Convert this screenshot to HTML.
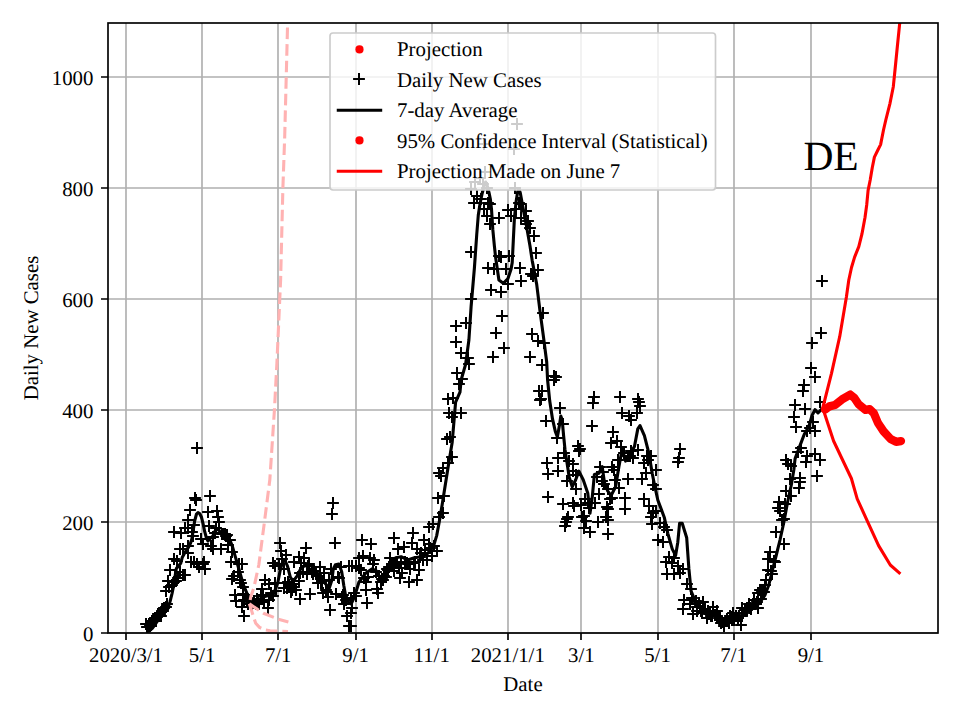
<!DOCTYPE html><html><head><meta charset="utf-8"><style>html,body{margin:0;padding:0;background:#fff;}svg{display:block;}text{font-family:"Liberation Serif",serif;text-rendering:geometricPrecision;}</style></head><body>
<svg width="960" height="720" viewBox="0 0 960 720">
<rect width="960" height="720" fill="#fff"/>
<path d="M126.00 23V633 M202.00 23V633 M278.00 23V633 M356.00 23V633 M432.00 23V633 M508.00 23V633 M581.00 23V633 M658.00 23V633 M734.00 23V633 M811.00 23V633 M108 633.00H938 M108 522.00H938 M108 410.00H938 M108 299.00H938 M108 188.00H938 M108 77.00H938" stroke="#b0b0b0" stroke-width="1.667" fill="none"/>
<defs><clipPath id="ax"><rect x="107.94" y="22.9" width="829.96" height="609.95"/></clipPath></defs><g clip-path="url(#ax)"><path d="M140.1 624.0h11.8M146.0 618.1v11.8M141.1 627.0h11.8M147.0 621.1v11.8M143.1 624.0h11.8M149.0 618.1v11.8M144.1 626.0h11.8M150.0 620.1v11.8M146.1 621.0h11.8M152.0 615.1v11.8M147.1 621.0h11.8M153.0 615.1v11.8M149.1 618.0h11.8M155.0 612.1v11.8M152.1 614.0h11.8M158.0 608.1v11.8M154.1 614.0h11.8M160.0 608.1v11.8M156.1 611.0h11.8M162.0 605.1v11.8M158.1 608.0h11.8M164.0 602.1v11.8M160.1 591.0h11.8M166.0 585.1v11.8M160.1 607.0h11.8M166.0 601.1v11.8M162.1 581.0h11.8M168.0 575.1v11.8M161.1 604.0h11.8M167.0 598.1v11.8M163.1 587.0h11.8M169.0 581.1v11.8M164.1 570.0h11.8M170.0 564.1v11.8M168.1 559.0h11.8M174.0 553.1v11.8M168.1 582.0h11.8M174.0 576.1v11.8M168.1 532.0h11.8M174.0 526.1v11.8M170.1 581.0h11.8M176.0 575.1v11.8M172.1 578.0h11.8M178.0 572.1v11.8M174.1 549.0h11.8M180.0 543.1v11.8M175.1 533.0h11.8M181.0 527.1v11.8M177.1 549.0h11.8M183.0 543.1v11.8M177.1 575.0h11.8M183.0 569.1v11.8M179.1 528.0h11.8M185.0 522.1v11.8M179.1 575.0h11.8M185.0 569.1v11.8M182.1 546.0h11.8M188.0 540.1v11.8M182.1 520.0h11.8M188.0 514.1v11.8M182.1 553.0h11.8M188.0 547.1v11.8M182.1 528.0h11.8M188.0 522.1v11.8M184.1 510.0h11.8M190.0 504.1v11.8M185.1 562.0h11.8M191.0 556.1v11.8M186.1 532.0h11.8M192.0 526.1v11.8M187.1 536.0h11.8M193.0 530.1v11.8M188.1 525.0h11.8M194.0 519.1v11.8M188.1 562.0h11.8M194.0 556.1v11.8M189.1 498.0h11.8M195.0 492.1v11.8M190.1 500.0h11.8M196.0 494.1v11.8M191.1 448.0h11.8M197.0 442.1v11.8M191.1 564.0h11.8M197.0 558.1v11.8M193.1 567.0h11.8M199.0 561.1v11.8M197.1 564.0h11.8M203.0 558.1v11.8M197.1 544.0h11.8M203.0 538.1v11.8M198.1 562.0h11.8M204.0 556.1v11.8M199.1 569.0h11.8M205.0 563.1v11.8M202.1 512.0h11.8M208.0 506.1v11.8M203.1 526.0h11.8M209.0 520.1v11.8M204.1 496.0h11.8M210.0 490.1v11.8M205.1 546.0h11.8M211.0 540.1v11.8M207.1 549.0h11.8M213.0 543.1v11.8M207.1 537.0h11.8M213.0 531.1v11.8M211.1 511.0h11.8M217.0 505.1v11.8M212.1 517.0h11.8M218.0 511.1v11.8M213.1 522.0h11.8M219.0 516.1v11.8M215.1 549.0h11.8M221.0 543.1v11.8M220.1 536.0h11.8M226.0 530.1v11.8M224.1 540.0h11.8M230.0 534.1v11.8M225.1 562.0h11.8M231.0 556.1v11.8M226.1 552.0h11.8M232.0 546.1v11.8M226.1 579.0h11.8M232.0 573.1v11.8M228.1 576.0h11.8M234.0 570.1v11.8M229.1 595.0h11.8M235.0 589.1v11.8M230.1 601.0h11.8M236.0 595.1v11.8M232.1 572.0h11.8M238.0 566.1v11.8M233.1 564.0h11.8M239.0 558.1v11.8M234.1 580.0h11.8M240.0 574.1v11.8M235.1 583.0h11.8M241.0 577.1v11.8M236.1 564.0h11.8M242.0 558.1v11.8M236.1 607.0h11.8M242.0 601.1v11.8M237.1 587.0h11.8M243.0 581.1v11.8M237.1 594.0h11.8M243.0 588.1v11.8M238.1 600.0h11.8M244.0 594.1v11.8M238.1 616.0h11.8M244.0 610.1v11.8M241.1 601.0h11.8M247.0 595.1v11.8M246.1 607.0h11.8M252.0 601.1v11.8M248.1 601.0h11.8M254.0 595.1v11.8M253.1 604.0h11.8M259.0 598.1v11.8M255.1 596.0h11.8M261.0 590.1v11.8M256.1 589.0h11.8M262.0 583.1v11.8M258.1 602.0h11.8M264.0 596.1v11.8M259.1 580.0h11.8M265.0 574.1v11.8M262.1 608.0h11.8M268.0 602.1v11.8M263.1 584.0h11.8M269.0 578.1v11.8M263.1 600.0h11.8M269.0 594.1v11.8M267.1 563.0h11.8M273.0 557.1v11.8M267.1 596.0h11.8M273.0 590.1v11.8M269.1 583.0h11.8M275.0 577.1v11.8M269.1 566.0h11.8M275.0 560.1v11.8M270.1 591.0h11.8M276.0 585.1v11.8M273.1 564.0h11.8M279.0 558.1v11.8M274.1 543.0h11.8M280.0 537.1v11.8M275.1 551.0h11.8M281.0 545.1v11.8M276.1 559.0h11.8M282.0 553.1v11.8M278.1 569.0h11.8M284.0 563.1v11.8M278.1 588.0h11.8M284.0 582.1v11.8M280.1 555.0h11.8M286.0 549.1v11.8M279.1 583.0h11.8M285.0 577.1v11.8M281.1 588.0h11.8M287.0 582.1v11.8M282.1 582.0h11.8M288.0 576.1v11.8M283.1 585.0h11.8M289.0 579.1v11.8M285.1 592.0h11.8M291.0 586.1v11.8M287.1 584.0h11.8M293.0 578.1v11.8M286.1 590.0h11.8M292.0 584.1v11.8M288.1 587.0h11.8M294.0 581.1v11.8M288.1 562.0h11.8M294.0 556.1v11.8M290.1 590.0h11.8M296.0 584.1v11.8M293.1 557.0h11.8M299.0 551.1v11.8M293.1 581.0h11.8M299.0 575.1v11.8M294.1 573.0h11.8M300.0 567.1v11.8M294.1 599.0h11.8M300.0 593.1v11.8M295.1 563.0h11.8M301.0 557.1v11.8M298.1 558.0h11.8M304.0 552.1v11.8M300.1 548.0h11.8M306.0 542.1v11.8M301.1 574.0h11.8M307.0 568.1v11.8M303.1 564.0h11.8M309.0 558.1v11.8M304.1 594.0h11.8M310.0 588.1v11.8M308.1 571.0h11.8M314.0 565.1v11.8M312.1 583.0h11.8M318.0 577.1v11.8M314.1 567.0h11.8M320.0 561.1v11.8M317.1 593.0h11.8M323.0 587.1v11.8M318.1 573.0h11.8M324.0 567.1v11.8M322.1 597.0h11.8M328.0 591.1v11.8M324.1 610.0h11.8M330.0 604.1v11.8M325.1 569.0h11.8M331.0 563.1v11.8M326.1 514.0h11.8M332.0 508.1v11.8M327.1 503.0h11.8M333.0 497.1v11.8M329.1 543.0h11.8M335.0 537.1v11.8M330.1 594.0h11.8M336.0 588.1v11.8M336.1 597.0h11.8M342.0 591.1v11.8M338.1 604.0h11.8M344.0 598.1v11.8M341.1 616.0h11.8M347.0 610.1v11.8M343.1 566.0h11.8M349.0 560.1v11.8M343.1 626.0h11.8M349.0 620.1v11.8M345.1 598.0h11.8M351.0 592.1v11.8M345.1 613.0h11.8M351.0 607.1v11.8M345.1 626.0h11.8M351.0 620.1v11.8M346.1 566.0h11.8M352.0 560.1v11.8M346.1 608.0h11.8M352.0 602.1v11.8M348.1 593.0h11.8M354.0 587.1v11.8M350.1 566.0h11.8M356.0 560.1v11.8M350.1 596.0h11.8M356.0 590.1v11.8M353.1 558.0h11.8M359.0 552.1v11.8M353.1 568.0h11.8M359.0 562.1v11.8M356.1 540.0h11.8M362.0 534.1v11.8M357.1 556.0h11.8M363.0 550.1v11.8M360.1 582.0h11.8M366.0 576.1v11.8M360.1 590.0h11.8M366.0 584.1v11.8M361.1 603.0h11.8M367.0 597.1v11.8M364.1 558.0h11.8M370.0 552.1v11.8M365.1 544.0h11.8M371.0 538.1v11.8M368.1 560.0h11.8M374.0 554.1v11.8M371.1 589.0h11.8M377.0 583.1v11.8M372.1 593.0h11.8M378.0 587.1v11.8M373.1 576.0h11.8M379.0 570.1v11.8M375.1 582.0h11.8M381.0 576.1v11.8M377.1 580.0h11.8M383.0 574.1v11.8M378.1 576.0h11.8M384.0 570.1v11.8M381.1 569.0h11.8M387.0 563.1v11.8M384.1 558.0h11.8M390.0 552.1v11.8M386.1 564.0h11.8M392.0 558.1v11.8M388.1 538.0h11.8M394.0 532.1v11.8M388.1 571.0h11.8M394.0 565.1v11.8M392.1 549.0h11.8M398.0 543.1v11.8M394.1 578.0h11.8M400.0 572.1v11.8M395.1 562.0h11.8M401.0 556.1v11.8M396.1 573.0h11.8M402.0 567.1v11.8M398.1 547.0h11.8M404.0 541.1v11.8M402.1 564.0h11.8M408.0 558.1v11.8M403.1 582.0h11.8M409.0 576.1v11.8M404.1 569.0h11.8M410.0 563.1v11.8M406.1 543.0h11.8M412.0 537.1v11.8M407.1 533.0h11.8M413.0 527.1v11.8M408.1 563.0h11.8M414.0 557.1v11.8M411.1 549.0h11.8M417.0 543.1v11.8M411.1 580.0h11.8M417.0 574.1v11.8M413.1 570.0h11.8M419.0 564.1v11.8M415.1 553.0h11.8M421.0 547.1v11.8M418.1 540.0h11.8M424.0 534.1v11.8M421.1 560.0h11.8M427.0 554.1v11.8M423.1 527.0h11.8M429.0 521.1v11.8M423.1 544.0h11.8M429.0 538.1v11.8M427.1 524.0h11.8M433.0 518.1v11.8M426.1 556.0h11.8M432.0 550.1v11.8M431.1 551.0h11.8M437.0 545.1v11.8M432.1 498.0h11.8M438.0 492.1v11.8M433.1 473.0h11.8M439.0 467.1v11.8M433.1 517.0h11.8M439.0 511.1v11.8M435.1 476.0h11.8M441.0 470.1v11.8M437.1 468.0h11.8M443.0 462.1v11.8M437.1 513.0h11.8M443.0 507.1v11.8M438.1 496.0h11.8M444.0 490.1v11.8M441.1 439.0h11.8M447.0 433.1v11.8M442.1 399.0h11.8M448.0 393.1v11.8M442.1 463.0h11.8M448.0 457.1v11.8M443.1 413.0h11.8M449.0 407.1v11.8M446.1 417.0h11.8M452.0 411.1v11.8M446.1 457.0h11.8M452.0 451.1v11.8M447.1 398.0h11.8M453.0 392.1v11.8M450.1 326.0h11.8M456.0 320.1v11.8M450.1 342.0h11.8M456.0 336.1v11.8M451.1 373.0h11.8M457.0 367.1v11.8M453.1 384.0h11.8M459.0 378.1v11.8M455.1 353.0h11.8M461.0 347.1v11.8M455.1 413.0h11.8M461.0 407.1v11.8M456.1 379.0h11.8M462.0 373.1v11.8M460.1 323.0h11.8M466.0 317.1v11.8M462.1 358.0h11.8M468.0 352.1v11.8M463.1 364.0h11.8M469.0 358.1v11.8M465.1 252.0h11.8M471.0 246.1v11.8M465.1 299.0h11.8M471.0 293.1v11.8M465.1 189.0h11.8M471.0 183.1v11.8M468.1 203.0h11.8M474.0 197.1v11.8M469.1 182.0h11.8M475.0 176.1v11.8M471.1 196.0h11.8M477.0 190.1v11.8M474.1 178.0h11.8M480.0 172.1v11.8M475.1 199.0h11.8M481.0 193.1v11.8M477.1 184.0h11.8M483.0 178.1v11.8M478.1 144.0h11.8M484.0 138.1v11.8M478.1 209.0h11.8M484.0 203.1v11.8M479.1 172.0h11.8M485.0 166.1v11.8M481.1 216.0h11.8M487.0 210.1v11.8M481.1 188.0h11.8M487.0 182.1v11.8M482.1 203.0h11.8M488.0 197.1v11.8M482.1 268.0h11.8M488.0 262.1v11.8M484.1 204.0h11.8M490.0 198.1v11.8M484.1 224.0h11.8M490.0 218.1v11.8M485.1 290.0h11.8M491.0 284.1v11.8M487.1 357.0h11.8M493.0 351.1v11.8M488.1 269.0h11.8M494.0 263.1v11.8M490.1 333.0h11.8M496.0 327.1v11.8M493.1 218.0h11.8M499.0 212.1v11.8M493.1 256.0h11.8M499.0 250.1v11.8M495.1 257.0h11.8M501.0 251.1v11.8M495.1 292.0h11.8M501.0 286.1v11.8M496.1 316.0h11.8M502.0 310.1v11.8M498.1 348.0h11.8M504.0 342.1v11.8M500.1 269.0h11.8M506.0 263.1v11.8M502.1 210.0h11.8M508.0 204.1v11.8M502.1 284.0h11.8M508.0 278.1v11.8M503.1 256.0h11.8M509.0 250.1v11.8M505.1 216.0h11.8M511.0 210.1v11.8M508.1 149.0h11.8M514.0 143.1v11.8M509.1 188.0h11.8M515.0 182.1v11.8M510.1 209.0h11.8M516.0 203.1v11.8M511.1 124.0h11.8M517.0 118.1v11.8M513.1 203.0h11.8M519.0 197.1v11.8M514.1 268.0h11.8M520.0 262.1v11.8M515.1 204.0h11.8M521.0 198.1v11.8M515.1 218.0h11.8M521.0 212.1v11.8M515.1 281.0h11.8M521.0 275.1v11.8M520.1 211.0h11.8M526.0 205.1v11.8M520.1 224.0h11.8M526.0 218.1v11.8M522.1 221.0h11.8M528.0 215.1v11.8M524.1 228.0h11.8M530.0 222.1v11.8M524.1 357.0h11.8M530.0 351.1v11.8M525.1 274.0h11.8M531.0 268.1v11.8M526.1 334.0h11.8M532.0 328.1v11.8M527.1 276.0h11.8M533.0 270.1v11.8M528.1 236.0h11.8M534.0 230.1v11.8M530.1 253.0h11.8M536.0 247.1v11.8M532.1 270.0h11.8M538.0 264.1v11.8M532.1 341.0h11.8M538.0 335.1v11.8M533.1 391.0h11.8M539.0 385.1v11.8M534.1 400.0h11.8M540.0 394.1v11.8M536.1 365.0h11.8M542.0 359.1v11.8M535.1 399.0h11.8M541.0 393.1v11.8M536.1 391.0h11.8M542.0 385.1v11.8M537.1 313.0h11.8M543.0 307.1v11.8M538.1 343.0h11.8M544.0 337.1v11.8M540.1 421.0h11.8M546.0 415.1v11.8M541.1 463.0h11.8M547.0 457.1v11.8M542.1 474.0h11.8M548.0 468.1v11.8M542.1 497.0h11.8M548.0 491.1v11.8M548.1 376.0h11.8M554.0 370.1v11.8M548.1 380.0h11.8M554.0 374.1v11.8M550.1 377.0h11.8M556.0 371.1v11.8M551.1 438.0h11.8M557.0 432.1v11.8M552.1 458.0h11.8M558.0 452.1v11.8M552.1 471.0h11.8M558.0 465.1v11.8M554.1 408.0h11.8M560.0 402.1v11.8M557.1 504.0h11.8M563.0 498.1v11.8M557.1 424.0h11.8M563.0 418.1v11.8M558.1 453.0h11.8M564.0 447.1v11.8M559.1 526.0h11.8M565.0 520.1v11.8M560.1 522.0h11.8M566.0 516.1v11.8M561.1 481.0h11.8M567.0 475.1v11.8M561.1 519.0h11.8M567.0 513.1v11.8M562.1 517.0h11.8M568.0 511.1v11.8M563.1 461.0h11.8M569.0 455.1v11.8M567.1 503.0h11.8M573.0 497.1v11.8M567.1 464.0h11.8M573.0 458.1v11.8M567.1 471.0h11.8M573.0 465.1v11.8M568.1 506.0h11.8M574.0 500.1v11.8M570.1 489.0h11.8M576.0 483.1v11.8M572.1 446.0h11.8M578.0 440.1v11.8M573.1 451.0h11.8M579.0 445.1v11.8M574.1 449.0h11.8M580.0 443.1v11.8M575.1 505.0h11.8M581.0 499.1v11.8M576.1 517.0h11.8M582.0 511.1v11.8M578.1 528.0h11.8M584.0 522.1v11.8M578.1 516.0h11.8M584.0 510.1v11.8M580.1 521.0h11.8M586.0 515.1v11.8M582.1 503.0h11.8M588.0 497.1v11.8M584.1 532.0h11.8M590.0 526.1v11.8M586.1 426.0h11.8M592.0 420.1v11.8M587.1 403.0h11.8M593.0 397.1v11.8M588.1 397.0h11.8M594.0 391.1v11.8M589.1 503.0h11.8M595.0 497.1v11.8M591.1 477.0h11.8M597.0 471.1v11.8M592.1 522.0h11.8M598.0 516.1v11.8M593.1 494.0h11.8M599.0 488.1v11.8M594.1 467.0h11.8M600.0 461.1v11.8M596.1 481.0h11.8M602.0 475.1v11.8M597.1 472.0h11.8M603.0 466.1v11.8M598.1 484.0h11.8M604.0 478.1v11.8M600.1 517.0h11.8M606.0 511.1v11.8M601.1 507.0h11.8M607.0 501.1v11.8M602.1 509.0h11.8M608.0 503.1v11.8M602.1 489.0h11.8M608.0 483.1v11.8M602.1 520.0h11.8M608.0 514.1v11.8M602.1 534.0h11.8M608.0 528.1v11.8M604.1 499.0h11.8M610.0 493.1v11.8M605.1 443.0h11.8M611.0 437.1v11.8M606.1 467.0h11.8M612.0 461.1v11.8M606.1 498.0h11.8M612.0 492.1v11.8M607.1 432.0h11.8M613.0 426.1v11.8M608.1 470.0h11.8M614.0 464.1v11.8M611.1 441.0h11.8M617.0 435.1v11.8M613.1 488.0h11.8M619.0 482.1v11.8M614.1 397.0h11.8M620.0 391.1v11.8M615.1 447.0h11.8M621.0 441.1v11.8M616.1 413.0h11.8M622.0 407.1v11.8M619.1 498.0h11.8M625.0 492.1v11.8M619.1 509.0h11.8M625.0 503.1v11.8M622.1 456.0h11.8M628.0 450.1v11.8M622.1 479.0h11.8M628.0 473.1v11.8M623.1 416.0h11.8M629.0 410.1v11.8M625.1 420.0h11.8M631.0 414.1v11.8M625.1 451.0h11.8M631.0 445.1v11.8M627.1 458.0h11.8M633.0 452.1v11.8M631.1 413.0h11.8M637.0 407.1v11.8M632.1 399.0h11.8M638.0 393.1v11.8M632.1 450.0h11.8M638.0 444.1v11.8M633.1 402.0h11.8M639.0 396.1v11.8M634.1 406.0h11.8M640.0 400.1v11.8M636.1 479.0h11.8M642.0 473.1v11.8M638.1 499.0h11.8M644.0 493.1v11.8M638.1 463.0h11.8M644.0 457.1v11.8M640.1 473.0h11.8M646.0 467.1v11.8M641.1 456.0h11.8M647.0 450.1v11.8M643.1 506.0h11.8M649.0 500.1v11.8M645.1 517.0h11.8M651.0 511.1v11.8M645.1 456.0h11.8M651.0 450.1v11.8M647.1 485.0h11.8M653.0 479.1v11.8M646.1 524.0h11.8M652.0 518.1v11.8M647.1 513.0h11.8M653.0 507.1v11.8M650.1 470.0h11.8M656.0 464.1v11.8M650.1 489.0h11.8M656.0 483.1v11.8M650.1 511.0h11.8M656.0 505.1v11.8M652.1 540.0h11.8M658.0 534.1v11.8M654.1 523.0h11.8M660.0 517.1v11.8M657.1 542.0h11.8M663.0 536.1v11.8M658.1 527.0h11.8M664.0 521.1v11.8M660.1 562.0h11.8M666.0 556.1v11.8M661.1 530.0h11.8M667.0 524.1v11.8M661.1 574.0h11.8M667.0 568.1v11.8M663.1 557.0h11.8M669.0 551.1v11.8M666.1 563.0h11.8M672.0 557.1v11.8M668.1 558.0h11.8M674.0 552.1v11.8M668.1 574.0h11.8M674.0 568.1v11.8M672.1 462.0h11.8M678.0 456.1v11.8M672.1 566.0h11.8M678.0 560.1v11.8M673.1 458.0h11.8M679.0 452.1v11.8M674.1 449.0h11.8M680.0 443.1v11.8M674.1 573.0h11.8M680.0 567.1v11.8M677.1 569.0h11.8M683.0 563.1v11.8M677.1 609.0h11.8M683.0 603.1v11.8M678.1 600.0h11.8M684.0 594.1v11.8M681.1 584.0h11.8M687.0 578.1v11.8M684.1 604.0h11.8M690.0 598.1v11.8M685.1 589.0h11.8M691.0 583.1v11.8M687.1 614.0h11.8M693.0 608.1v11.8M690.1 601.0h11.8M696.0 595.1v11.8M691.1 611.0h11.8M697.0 605.1v11.8M693.1 603.0h11.8M699.0 597.1v11.8M696.1 613.0h11.8M702.0 607.1v11.8M697.1 602.0h11.8M703.0 596.1v11.8M701.1 618.0h11.8M707.0 612.1v11.8M702.1 611.0h11.8M708.0 605.1v11.8M706.1 616.0h11.8M712.0 610.1v11.8M707.1 607.0h11.8M713.0 601.1v11.8M711.1 611.0h11.8M717.0 605.1v11.8M713.1 618.0h11.8M719.0 612.1v11.8M716.1 622.0h11.8M722.0 616.1v11.8M718.1 626.0h11.8M724.0 620.1v11.8M721.1 619.0h11.8M727.0 613.1v11.8M723.1 623.0h11.8M729.0 617.1v11.8M724.1 616.0h11.8M730.0 610.1v11.8M727.1 613.0h11.8M733.0 607.1v11.8M728.1 620.0h11.8M734.0 614.1v11.8M732.1 618.0h11.8M738.0 612.1v11.8M735.1 625.0h11.8M741.0 619.1v11.8M736.1 608.0h11.8M742.0 602.1v11.8M736.1 616.0h11.8M742.0 610.1v11.8M737.1 613.0h11.8M743.0 607.1v11.8M739.1 610.0h11.8M745.0 604.1v11.8M741.1 608.0h11.8M747.0 602.1v11.8M743.1 604.0h11.8M749.0 598.1v11.8M745.1 609.0h11.8M751.0 603.1v11.8M747.1 604.0h11.8M753.0 598.1v11.8M748.1 600.0h11.8M754.0 594.1v11.8M751.1 602.0h11.8M757.0 596.1v11.8M752.1 608.0h11.8M758.0 602.1v11.8M752.1 593.0h11.8M758.0 587.1v11.8M754.1 590.0h11.8M760.0 584.1v11.8M758.1 592.0h11.8M764.0 586.1v11.8M759.1 585.0h11.8M765.0 579.1v11.8M762.1 559.0h11.8M768.0 553.1v11.8M762.1 570.0h11.8M768.0 564.1v11.8M764.1 552.0h11.8M770.0 546.1v11.8M766.1 574.0h11.8M772.0 568.1v11.8M769.1 562.0h11.8M775.0 556.1v11.8M770.1 532.0h11.8M776.0 526.1v11.8M772.1 508.0h11.8M778.0 502.1v11.8M773.1 502.0h11.8M779.0 496.1v11.8M774.1 511.0h11.8M780.0 505.1v11.8M778.1 519.0h11.8M784.0 513.1v11.8M778.1 544.0h11.8M784.0 538.1v11.8M780.1 460.0h11.8M786.0 454.1v11.8M780.1 491.0h11.8M786.0 485.1v11.8M782.1 464.0h11.8M788.0 458.1v11.8M785.1 466.0h11.8M791.0 460.1v11.8M785.1 496.0h11.8M791.0 490.1v11.8M788.1 417.0h11.8M794.0 411.1v11.8M789.1 405.0h11.8M795.0 399.1v11.8M790.1 427.0h11.8M796.0 421.1v11.8M792.1 452.0h11.8M798.0 446.1v11.8M793.1 488.0h11.8M799.0 482.1v11.8M794.1 478.0h11.8M800.0 472.1v11.8M794.1 482.0h11.8M800.0 476.1v11.8M797.1 391.0h11.8M803.0 385.1v11.8M798.1 385.0h11.8M804.0 379.1v11.8M799.1 409.0h11.8M805.0 403.1v11.8M800.1 462.0h11.8M806.0 456.1v11.8M801.1 431.0h11.8M807.0 425.1v11.8M801.1 456.0h11.8M807.0 450.1v11.8M805.1 368.0h11.8M811.0 362.1v11.8M806.1 343.0h11.8M812.0 337.1v11.8M809.1 377.0h11.8M815.0 371.1v11.8M809.1 431.0h11.8M815.0 425.1v11.8M809.1 454.0h11.8M815.0 448.1v11.8M811.1 476.0h11.8M817.0 470.1v11.8M814.1 402.0h11.8M820.0 396.1v11.8M814.1 460.0h11.8M820.0 454.1v11.8M815.1 333.0h11.8M821.0 327.1v11.8M816.1 281.0h11.8M822.0 275.1v11.8M145.1 625.0h11.8M151.0 619.1v11.8M150.1 621.0h11.8M156.0 615.1v11.8M151.1 617.0h11.8M157.0 611.1v11.8M157.1 611.0h11.8M163.0 605.1v11.8M155.1 616.0h11.8M161.0 610.1v11.8M166.1 585.0h11.8M172.0 579.1v11.8M171.1 561.0h11.8M177.0 555.1v11.8M174.1 572.0h11.8M180.0 566.1v11.8M195.1 539.0h11.8M201.0 533.1v11.8M209.1 533.0h11.8M215.0 527.1v11.8M210.1 528.0h11.8M216.0 522.1v11.8M217.1 534.0h11.8M223.0 528.1v11.8M219.1 534.0h11.8M225.0 528.1v11.8M216.1 534.0h11.8M222.0 528.1v11.8M222.1 545.0h11.8M228.0 539.1v11.8M221.1 535.0h11.8M227.0 529.1v11.8M244.1 600.0h11.8M250.0 594.1v11.8M242.1 604.0h11.8M248.0 598.1v11.8M240.1 595.0h11.8M246.0 589.1v11.8M245.1 602.0h11.8M251.0 596.1v11.8M247.1 603.0h11.8M253.0 597.1v11.8M251.1 599.0h11.8M257.0 593.1v11.8M250.1 604.0h11.8M256.0 598.1v11.8M252.1 601.0h11.8M258.0 595.1v11.8M257.1 595.0h11.8M263.0 589.1v11.8M265.1 593.0h11.8M271.0 587.1v11.8M297.1 572.0h11.8M303.0 566.1v11.8M302.1 566.0h11.8M308.0 560.1v11.8M306.1 572.0h11.8M312.0 566.1v11.8M307.1 574.0h11.8M313.0 568.1v11.8M310.1 574.0h11.8M316.0 568.1v11.8M311.1 576.0h11.8M317.0 570.1v11.8M316.1 581.0h11.8M322.0 575.1v11.8M315.1 583.0h11.8M321.0 577.1v11.8M320.1 590.0h11.8M326.0 584.1v11.8M321.1 592.0h11.8M327.0 586.1v11.8M323.1 580.0h11.8M329.0 574.1v11.8M333.1 578.0h11.8M339.0 572.1v11.8M332.1 577.0h11.8M338.0 571.1v11.8M335.1 567.0h11.8M341.0 561.1v11.8M337.1 595.0h11.8M343.0 589.1v11.8M340.1 600.0h11.8M346.0 594.1v11.8M355.1 570.0h11.8M361.0 564.1v11.8M358.1 578.0h11.8M364.0 572.1v11.8M362.1 577.0h11.8M368.0 571.1v11.8M367.1 564.0h11.8M373.0 558.1v11.8M370.1 572.0h11.8M376.0 566.1v11.8M376.1 579.0h11.8M382.0 573.1v11.8M382.1 570.0h11.8M388.0 564.1v11.8M380.1 577.0h11.8M386.0 571.1v11.8M383.1 567.0h11.8M389.0 561.1v11.8M389.1 563.0h11.8M395.0 557.1v11.8M391.1 562.0h11.8M397.0 556.1v11.8M393.1 568.0h11.8M399.0 562.1v11.8M399.1 562.0h11.8M405.0 556.1v11.8M401.1 563.0h11.8M407.0 557.1v11.8M409.1 562.0h11.8M415.0 556.1v11.8M417.1 560.0h11.8M423.0 554.1v11.8M414.1 557.0h11.8M420.0 551.1v11.8M419.1 550.0h11.8M425.0 544.1v11.8M424.1 548.0h11.8M430.0 542.1v11.8M428.1 546.0h11.8M434.0 540.1v11.8M444.1 437.0h11.8M450.0 431.1v11.8M570.1 475.0h11.8M576.0 469.1v11.8M583.1 508.0h11.8M589.0 502.1v11.8M579.1 499.0h11.8M585.0 493.1v11.8M612.1 460.0h11.8M618.0 454.1v11.8M609.1 480.0h11.8M615.0 474.1v11.8M618.1 453.0h11.8M624.0 447.1v11.8M624.1 456.0h11.8M630.0 450.1v11.8M642.1 460.0h11.8M648.0 454.1v11.8M686.1 598.0h11.8M692.0 592.1v11.8M691.1 607.0h11.8M697.0 601.1v11.8M694.1 606.0h11.8M700.0 600.1v11.8M695.1 611.0h11.8M701.0 605.1v11.8M699.1 609.0h11.8M705.0 603.1v11.8M703.1 614.0h11.8M709.0 608.1v11.8M704.1 612.0h11.8M710.0 606.1v11.8M705.1 616.0h11.8M711.0 610.1v11.8M709.1 615.0h11.8M715.0 609.1v11.8M711.1 616.0h11.8M717.0 610.1v11.8M715.1 623.0h11.8M721.0 617.1v11.8M714.1 618.0h11.8M720.0 612.1v11.8M718.1 624.0h11.8M724.0 618.1v11.8M721.1 621.0h11.8M727.0 615.1v11.8M725.1 617.0h11.8M731.0 611.1v11.8M726.1 620.0h11.8M732.0 614.1v11.8M730.1 616.0h11.8M736.0 610.1v11.8M733.1 616.0h11.8M739.0 610.1v11.8M741.1 610.0h11.8M747.0 604.1v11.8M744.1 608.0h11.8M750.0 602.1v11.8M749.1 604.0h11.8M755.0 598.1v11.8M756.1 592.0h11.8M762.0 586.1v11.8M755.1 599.0h11.8M761.0 593.1v11.8M760.1 580.0h11.8M766.0 574.1v11.8M765.1 571.0h11.8M771.0 565.1v11.8M768.1 561.0h11.8M774.0 555.1v11.8M776.1 520.0h11.8M782.0 514.1v11.8M779.1 504.0h11.8M785.0 498.1v11.8M784.1 479.0h11.8M790.0 473.1v11.8M795.1 448.0h11.8M801.0 442.1v11.8M804.1 428.0h11.8M810.0 422.1v11.8M807.1 422.0h11.8M813.0 416.1v11.8" stroke="#000" stroke-width="2" fill="none"/>
<polyline points="148.0,632.0 152.5,628.0 157.8,620.6 163.0,614.0 167.6,609.2 170.1,601.4 172.0,593.6 174.0,583.9 175.4,574.2 176.4,568.3 178.8,565.9 180.8,563.0 182.2,557.6 184.4,553.5 186.5,550.0 188.3,547.5 190.5,543.3 191.8,539.2 193.0,531.7 194.7,520.8 196.5,514.0 198.0,512.5 199.6,513.5 201.4,517.0 203.0,523.3 204.7,531.7 206.3,537.5 208.0,541.0 210.7,538.0 212.8,536.1 215.6,529.9 218.3,529.2 221.1,533.3 223.9,531.9 226.7,533.3 229.4,538.9 232.2,545.8 235.0,555.6 237.8,565.3 240.6,575.0 243.3,584.7 246.8,593.1 248.9,598.9 252.0,603.0 257.0,600.5 263.9,596.7 268.5,595.5 273.6,593.9 277.8,582.8 279.9,571.7 282.6,561.9 284.7,559.9 287.5,566.1 290.3,577.2 293.1,581.4 297.2,575.8 301.4,567.5 305.6,565.4 309.7,568.9 313.9,573.1 318.1,577.2 323.6,581.4 329.2,588.3 331.9,580.0 333.3,568.9 335.4,564.7 338.9,564.0 341.7,571.7 343.8,585.6 345.8,596.7 348.6,602.2 351.1,604.0 354.4,597.0 358.9,582.2 365.6,573.3 372.2,568.9 376.7,571.1 380.0,577.8 385.6,573.3 391.1,564.4 395.6,557.8 401.1,556.7 407.8,560.0 414.4,557.8 421.1,556.7 427.8,553.3 433.3,546.7 436.7,535.6 440.0,517.8 442.2,504.4 447.8,468.9 452.2,442.2 455.6,402.2 460.0,392.2 461.1,380.0 465.6,364.4 468.9,340.0 471.1,306.7 474.4,268.0 476.7,235.0 478.3,215.0 480.0,204.0 482.0,194.0 484.0,186.0 485.6,182.0 487.3,186.0 489.0,192.6 490.4,199.4 491.5,209.2 492.8,229.4 494.4,246.1 495.6,257.2 498.9,280.0 503.3,283.3 507.8,278.9 511.1,268.9 512.2,262.8 513.3,240.6 514.4,218.3 516.1,201.7 517.6,192.0 518.8,188.5 520.3,193.0 523.3,209.4 526.7,227.2 530.0,246.1 532.2,260.6 536.7,284.4 540.0,311.1 543.3,335.6 546.7,362.0 547.6,380.0 549.7,400.8 552.5,418.9 555.3,431.4 557.4,437.0 559.5,425.0 560.8,416.1 562.2,420.0 563.6,435.6 565.0,449.4 567.1,463.3 569.2,477.2 572.2,486.7 575.6,480.0 578.9,471.1 583.3,480.0 587.8,493.3 590.0,513.3 592.2,497.8 594.4,474.4 598.9,473.3 602.2,466.7 604.4,482.2 607.8,491.1 611.1,495.6 615.6,486.7 618.9,466.7 622.2,448.9 625.6,461.1 630.0,453.3 634.4,446.7 637.8,428.9 640.0,425.6 644.4,435.6 648.9,453.3 652.2,473.3 654.4,484.4 657.8,500.0 661.1,508.9 664.4,517.8 667.8,533.3 672.2,548.9 675.6,555.6 677.8,542.2 679.6,523.3 682.2,523.3 686.7,537.8 688.9,568.9 691.1,591.1 695.6,602.2 702.2,608.9 711.1,613.3 720.0,617.8 725.6,622.2 731.1,618.9 737.8,617.8 744.4,613.3 750.0,610.0 758.8,603.8 765.0,595.0 768.8,585.0 772.5,570.0 776.3,555.0 780.0,540.0 783.8,522.5 787.5,502.5 791.3,485.0 793.8,470.0 795.1,458.6 799.7,446.4 804.3,434.2 808.9,426.5 811.9,415.8 815.0,409.7 818.0,412.8 821.1,409.7" fill="none" stroke="#000" stroke-width="3.1" stroke-linejoin="round" stroke-linecap="square"/><polyline points="249.4,603.7 251.0,596.0 253.8,588.0 258.8,565.0 264.3,523.0 269.8,480.0 274.4,410.5 276.9,363.3 280.6,280.0 282.9,187.7 284.7,136.7 287.5,27.5" fill="none" stroke="#ffb2b2" stroke-width="3.1" stroke-dasharray="11.56 5" stroke-dashoffset="-3.8" stroke-linecap="butt" stroke-linejoin="round"/>
<polyline points="249.4,603.7 259.0,610.4 263.4,613.2 274.0,617.4 278.4,619.3 288.4,622.1" fill="none" stroke="#ffb2b2" stroke-width="3.1" stroke-dasharray="11.56 5" stroke-dashoffset="0" stroke-linecap="butt" stroke-linejoin="round"/>
<polyline points="249.4,603.7 254.0,618.2 255.7,623.2 259.5,627.4 264.6,629.9 270.1,630.7 280.7,631.3 288.0,631.6" fill="none" stroke="#ffb2b2" stroke-width="3.1" stroke-dasharray="11.56 5" stroke-dashoffset="0" stroke-linecap="butt" stroke-linejoin="round"/>
<polyline points="825.0,409.6 829.4,406.4 835.0,405.0 842.0,399.4 850.3,394.6 854.4,398.0 858.6,404.3 865.6,409.9 869.7,409.2 873.9,413.3 878.0,423.0 883.6,431.4 890.6,439.0 896.1,441.8 901.0,441.1" fill="none" stroke="#ff0000" stroke-width="8.3" stroke-linecap="round" stroke-linejoin="round"/>
<polyline points="822.5,409.0 831.5,373.3 839.7,336.7 846.4,297.0 848.8,280.0 851.5,267.5 854.6,257.1 858.8,246.7 861.9,234.2 865.0,217.5 866.7,205.0 868.1,190.4 870.2,180.0 872.3,167.5 874.4,157.1 877.5,150.8 880.6,144.6 883.5,130.0 885.8,120.0 890.0,103.3 893.3,86.7 895.0,70.0 897.5,45.0 899.7,23.3 900.2,15.0" fill="none" stroke="#ff0000" stroke-width="3.1" stroke-linecap="butt" stroke-linejoin="round"/>
<polyline points="822.9,408.5 833.6,441.0 842.6,460.0 851.4,478.5 857.2,498.9 867.0,520.3 878.6,545.6 890.3,565.0 900.4,573.8" fill="none" stroke="#ff0000" stroke-width="3.1" stroke-linecap="butt" stroke-linejoin="round"/></g>
<rect x="108" y="23" width="830.00" height="610.00" fill="none" stroke="#000" stroke-width="1.667" stroke-linejoin="miter"/>
<path d="M126.00 633v7.0 M202.00 633v7.0 M278.00 633v7.0 M356.00 633v7.0 M432.00 633v7.0 M508.00 633v7.0 M581.00 633v7.0 M658.00 633v7.0 M734.00 633v7.0 M811.00 633v7.0 M108 633.00h-7.0 M108 522.00h-7.0 M108 410.00h-7.0 M108 299.00h-7.0 M108 188.00h-7.0 M108 77.00h-7.0" stroke="#000" stroke-width="1.667" fill="none"/>
<text x="126.00" y="661.9" font-size="20.83" text-anchor="middle">2020/3/1</text>
<text x="202.11" y="661.9" font-size="20.83" text-anchor="middle">5/1</text>
<text x="278.22" y="661.9" font-size="20.83" text-anchor="middle">7/1</text>
<text x="355.57" y="661.9" font-size="20.83" text-anchor="middle">9/1</text>
<text x="431.68" y="661.9" font-size="20.83" text-anchor="middle">11/1</text>
<text x="507.79" y="661.9" font-size="20.83" text-anchor="middle">2021/1/1</text>
<text x="581.40" y="661.9" font-size="20.83" text-anchor="middle">3/1</text>
<text x="657.51" y="661.9" font-size="20.83" text-anchor="middle">5/1</text>
<text x="733.62" y="661.9" font-size="20.83" text-anchor="middle">7/1</text>
<text x="810.97" y="661.9" font-size="20.83" text-anchor="middle">9/1</text>
<text x="93.4" y="640.75" font-size="20.83" text-anchor="end">0</text>
<text x="93.4" y="529.56" font-size="20.83" text-anchor="end">200</text>
<text x="93.4" y="418.37" font-size="20.83" text-anchor="end">400</text>
<text x="93.4" y="307.18" font-size="20.83" text-anchor="end">600</text>
<text x="93.4" y="195.99" font-size="20.83" text-anchor="end">800</text>
<text x="93.4" y="84.80" font-size="20.83" text-anchor="end">1000</text>
<text x="523" y="690.5" font-size="20.83" text-anchor="middle">Date</text>
<text transform="translate(37.7 328.00) rotate(-90)" x="0" y="0" font-size="20.83" text-anchor="middle">Daily New Cases</text>
<text x="803.4" y="170" font-size="41.5">DE</text>
<rect x="330" y="33" width="385.5" height="157" rx="3" ry="3" fill="#fff" fill-opacity="0.8" stroke="#cccccc" stroke-width="1.667"/>
<text x="397.0" y="56.00" font-size="20.83">Projection</text>
<text x="397.0" y="87.36" font-size="20.83">Daily New Cases</text>
<text x="397.0" y="116.92" font-size="20.83">7-day Average</text>
<text x="397.0" y="148.28" font-size="20.83">95% Confidence Interval (Statistical)</text>
<text x="397.0" y="177.84" font-size="20.83">Projection Made on June 7</text>
<circle cx="359.5" cy="49.40" r="4.1" fill="#ff0000"/>
<path d="M353.10 79h11.8M359 73.10v11.8" stroke="#000" stroke-width="2.0"/>
<path d="M336.75 110.2H382.2" stroke="#000" stroke-width="3.125"/>
<circle cx="359.5" cy="140.4" r="4.1" fill="#ff0000"/>
<path d="M336.75 171.25H382.2" stroke="#ff0000" stroke-width="3.125"/>
</svg></body></html>
